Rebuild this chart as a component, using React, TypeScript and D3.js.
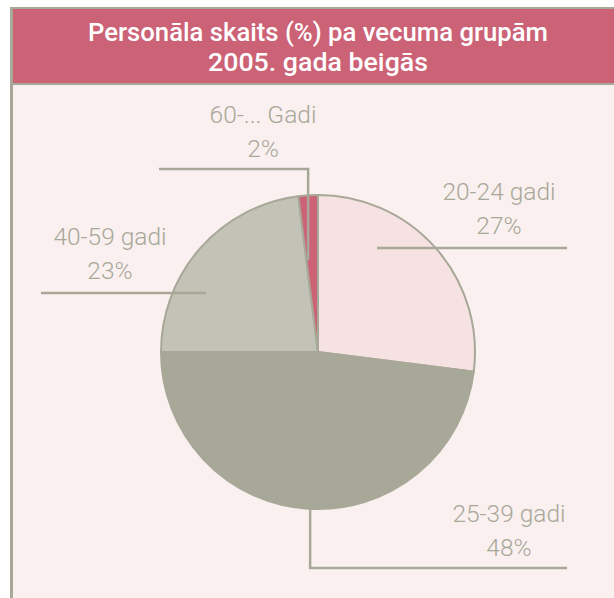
import { useEffect, useRef } from "react";
import * as d3 from "d3";

const categories = ["20-24 gadi", "25-39 gadi", "40-59 gadi", "60-... Gadi"];
const shares = [27, 48, 23, 2];
const sliceColors = ["#f6e2e2", "#a8a898", "#c2c2b6", "#cc6276"];
const titleLines = ["Personāla skaits (%) pa vecuma grupām", "2005. gada beigās"];

const W = 614;
const H = 598;
const GRAY = "#a8a898";
const PINK = "#cc6276";
const BG = "#faf0f0";

const App: React.FC = () => {
  const ref = useRef<SVGSVGElement>(null);

  useEffect(() => {
    const svg = d3.select(ref.current);
    svg.selectAll("*").remove();

    // frame + title band
    svg.append("rect").attr("x", 0).attr("y", 0).attr("width", W).attr("height", H).attr("fill", "#fff");
    svg.append("rect").attr("x", 10).attr("y", 7).attr("width", W - 10).attr("height", H - 7).attr("fill", GRAY);
    svg.append("rect").attr("x", 13).attr("y", 9).attr("width", W - 13).attr("height", 74).attr("fill", PINK);
    svg.append("rect").attr("x", 13).attr("y", 85).attr("width", W - 13).attr("height", H - 85).attr("fill", BG);

    const titleWidths = [460, 220];
    svg
      .selectAll(".title")
      .data(titleLines)
      .enter()
      .append("text")
      .attr("class", "title")
      .attr("x", 318)
      .attr("y", (_, i) => 41 + i * 30)
      .attr("text-anchor", "middle")
      .attr("textLength", (_, i) => titleWidths[i])
      .attr("lengthAdjust", "spacingAndGlyphs")
      .style("font-family", "Roboto, sans-serif")
      .style("font-weight", 500)
      .style("font-size", "26.5px")
      .style("fill", "#fff")
      .text((d) => d);

    // pie
    const cx = 318;
    const cy = 352;
    const r = 157;
    const data = categories.map((c, i) => ({ c, v: shares[i], color: sliceColors[i] }));
    const pie = d3.pie<{ c: string; v: number; color: string }>().value((d) => d.v).sort(null);
    const arcs = pie(data);
    const arc = d3.arc<d3.PieArcDatum<{ c: string; v: number; color: string }>>().innerRadius(0).outerRadius(r);

    const g = svg.append("g").attr("transform", `translate(${cx},${cy})`);
    g.selectAll("path")
      .data(arcs)
      .enter()
      .append("path")
      .attr("d", arc)
      .attr("fill", (d) => d.data.color)
      .attr("stroke", GRAY)
      .attr("stroke-width", 2);

    const mid = (d: d3.PieArcDatum<unknown>) => (d.startAngle + d.endAngle) / 2;
    const edgeX = (d: d3.PieArcDatum<unknown>) => r * Math.sin(mid(d));

    // leader lines (relative to pie center)
    const x60 = edgeX(arcs[3]);
    const x25 = edgeX(arcs[1]) + 2;
    const leaders: [number, number][][] = [
      [[59, -104], [249, -104]],
      [[x25, r - 2], [x25, 216], [249, 216]],
      [[-277, -59], [-112, -59]],
      [[-159, -183], [x60, -183], [x60, -92]],
    ];
    const line = d3.line();
    g.selectAll(".leader")
      .data(leaders)
      .enter()
      .append("path")
      .attr("class", "leader")
      .attr("d", (d) => line(d))
      .attr("fill", "none")
      .attr("stroke", GRAY)
      .attr("stroke-width", 2.5);

    // labels
    const labelPos: [number, number][] = [
      [181, -152],
      [191, 170],
      [-208, -107],
      [-55, -229],
    ];
    const lbl = g
      .selectAll(".lbl")
      .data(arcs)
      .enter()
      .append("text")
      .attr("class", "lbl")
      .attr("text-anchor", "middle")
      .style("font-family", "Roboto, sans-serif")
      .style("font-weight", 300)
      .style("font-size", "24.5px")
      .style("fill", GRAY);
    lbl
      .append("tspan")
      .attr("x", (_, i) => labelPos[i][0])
      .attr("y", (_, i) => labelPos[i][1])
      .text((d) => d.data.c);
    lbl
      .append("tspan")
      .attr("x", (_, i) => labelPos[i][0])
      .attr("y", (_, i) => labelPos[i][1] + 34)
      .text((d) => `${d.data.v}%`);
  }, []);

  return (
    <svg
      ref={ref}
      width={W}
      height={H}
      style={{ position: "absolute", left: 0, top: 0, display: "block" }}
    />
  );
};

export default App;
